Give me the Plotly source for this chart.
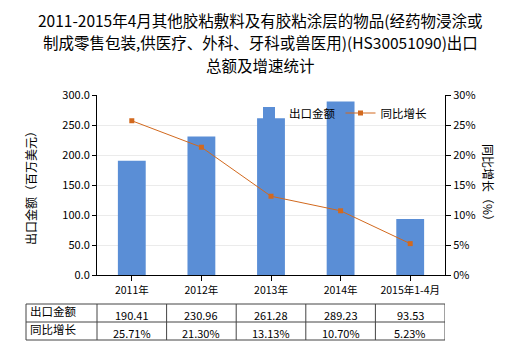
import plotly.graph_objects as go

categories = ["2011年", "2012年", "2013年", "2014年", "2015年1-4月"]
export_values = [190.41, 230.96, 261.28, 289.23, 93.53]
growth_rates = [25.71, 21.30, 13.13, 10.70, 5.23]
row_headers = ["出口金额", "同比增长"]
title_lines = ["2011-2015年4月其他胶粘敷料及有胶粘涂层的物品(经药物浸涂或",
               "制成零售包装,供医疗、外科、牙科或兽医用)(HS30051090)出口",
               "总额及增速统计"]

FONT = "Noto Sans CJK SC"
BAR_COLOR = "#5A8ED6"
LINE_COLOR = "#D2691E"

PL, PR, PT, PB = 97, 445, 95, 275  # plot area in pixels


def px_x(x):
    return (x - PL) / (PR - PL)


def px_y(y):
    return (PB - y) / (PB - PT)


fig = go.Figure()
fig.add_trace(go.Bar(x=categories, y=export_values, name="出口金额",
                     marker=dict(color=BAR_COLOR, line=dict(width=0)), width=0.4))
fig.add_trace(go.Scatter(x=categories, y=growth_rates, name="同比增长", yaxis="y2",
                         mode="lines+markers",
                         line=dict(color=LINE_COLOR, width=1),
                         marker=dict(symbol="square", size=5, color=LINE_COLOR)))

fig.update_layout(
    width=520, height=350,
    margin=dict(l=PL, r=520 - PR, t=PT, b=350 - PB),
    paper_bgcolor="white", plot_bgcolor="white",
    font=dict(family=FONT, size=11, color="black"),
    showlegend=True,
    legend=dict(orientation="h", x=px_x(249), y=px_y(113), xanchor="left",
                yanchor="middle", bgcolor="rgba(0,0,0,0)", font=dict(size=11.5),
                itemwidth=30, tracegroupgap=0),
    xaxis=dict(type="category", showline=True, linecolor="black", linewidth=1,
               ticks="outside", ticklen=5, tickcolor="black", showgrid=False,
               tickfont=dict(size=10.5), range=[-0.5, 4.5]),
    yaxis=dict(range=[0, 300], dtick=50, tickformat=".1f", showline=True,
               linecolor="black", ticks="outside", ticklen=4, tickcolor="black",
               gridcolor="#EBEBEB", zeroline=False, tickfont=dict(size=11)),
    yaxis2=dict(range=[0, 30], dtick=5, ticksuffix="%", overlaying="y", side="right",
                showline=True, linecolor="black", ticks="outside", ticklen=5,
                tickcolor="black", showgrid=False, zeroline=False,
                tickfont=dict(size=11)),
    bargap=0.6,
)

# title, one annotation per line
for k, line in enumerate(title_lines):
    fig.add_annotation(text=line, xref="paper", yref="paper",
                       x=px_x(260), y=px_y(20 + 22.5 * k), xanchor="center",
                       yanchor="middle", showarrow=False,
                       font=dict(size=15.5, family=FONT, color="black"))

# axis titles
fig.add_annotation(text="出口金额（百万美元）", xref="paper", yref="paper",
                   x=px_x(30), y=0.5, showarrow=False, textangle=-90,
                   font=dict(size=12), xanchor="center", yanchor="middle")
fig.add_annotation(text="同比增长（%）", xref="paper", yref="paper",
                   x=px_x(489), y=0.5, showarrow=False, textangle=90,
                   font=dict(size=12), xanchor="center", yanchor="middle")

# table
row_y = [px_y(304), px_y(322), px_y(340)]
left_x = px_x(26)
line_style = dict(color="#444444", width=1)
for yy in row_y:
    fig.add_shape(type="line", xref="paper", yref="paper", x0=left_x, x1=1,
                  y0=yy, y1=yy, line=line_style)
for xx in [left_x, 0]:
    fig.add_shape(type="line", xref="paper", yref="paper", x0=xx, x1=xx,
                  y0=row_y[0], y1=row_y[-1], line=line_style)
for i in range(len(categories)):
    xx = i + 0.5
    fig.add_shape(type="line", xref="x", yref="paper", x0=xx, x1=xx,
                  y0=row_y[0], y1=row_y[-1], line=line_style)

for r, header in enumerate(row_headers):
    ymid = (row_y[r] + row_y[r + 1]) / 2
    fig.add_annotation(text=header, xref="paper", yref="paper", x=px_x(28),
                       y=ymid + 0.01, showarrow=False, xanchor="left",
                       yanchor="middle", font=dict(size=11.5))
for i, cat in enumerate(categories):
    y1 = (row_y[0] + row_y[1]) / 2
    y2 = (row_y[1] + row_y[2]) / 2
    fig.add_annotation(text=f"{export_values[i]:.2f}", xref="x", yref="paper",
                       x=cat, y=y1 - 0.01, showarrow=False, yanchor="middle",
                       font=dict(size=11))
    fig.add_annotation(text=f"{growth_rates[i]:.2f}%", xref="x", yref="paper",
                       x=cat, y=y2 - 0.01, showarrow=False, yanchor="middle",
                       font=dict(size=11))

fig.write_html("out.html")
